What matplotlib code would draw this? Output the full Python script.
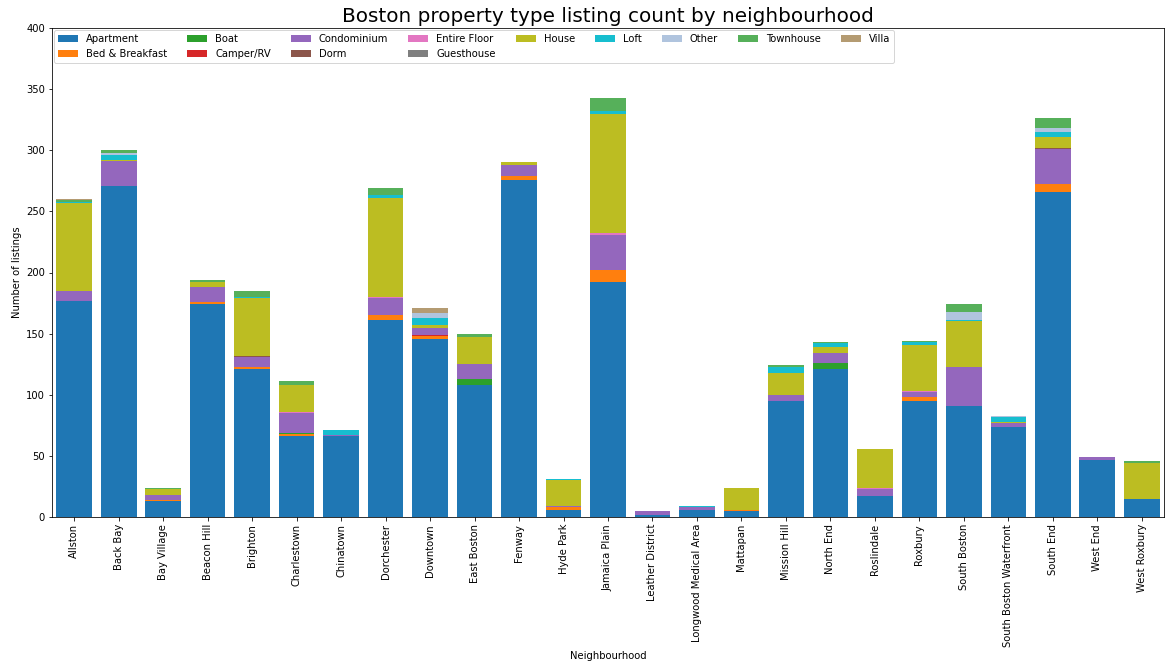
import numpy as np
import matplotlib
matplotlib.use("Agg")
import matplotlib.pyplot as plt

neighbourhoods = ["Allston", "Back Bay", "Bay Village", "Beacon Hill", "Brighton",
                  "Charlestown", "Chinatown", "Dorchester", "Downtown", "East Boston",
                  "Fenway", "Hyde Park", "Jamaica Plain", "Leather District",
                  "Longwood Medical Area", "Mattapan", "Mission Hill", "North End",
                  "Roslindale", "Roxbury", "South Boston", "South Boston Waterfront",
                  "South End", "West End", "West Roxbury"]

apartment = [177, 271, 13, 174, 121, 66, 66, 161, 146, 108, 276, 6, 192, 2, 6, 5, 95, 121, 17, 95, 91, 74, 266, 47, 15]
bed_breakfast = [0, 0, 1, 2, 2, 2, 0, 4, 2, 0, 3, 2, 10, 0, 0, 1, 0, 0, 0, 3, 0, 0, 6, 0, 0]
boat = [0, 0, 0, 0, 0, 1, 0, 0, 0, 5, 0, 0, 0, 0, 0, 0, 0, 5, 0, 0, 0, 0, 0, 0, 0]
camper = [0, 0, 0, 0, 0, 0, 0, 0, 1, 0, 0, 0, 0, 0, 0, 0, 0, 0, 0, 0, 0, 0, 0, 0, 0]
condominium = [8, 20, 4, 12, 8, 16, 1, 14, 6, 12, 9, 1, 29, 3, 2, 0, 5, 8, 6, 4, 32, 3, 29, 2, 0]
dorm = [0, 0, 0, 0, 1, 0, 0, 0, 0, 0, 0, 0, 0, 0, 0, 0, 0, 0, 0, 0, 0, 0, 1, 0, 0]
entire_floor = [0, 0, 0, 0, 0, 1, 0, 1, 0, 0, 0, 0, 1, 0, 0, 0, 0, 0, 1, 1, 0, 0, 0, 0, 0]
guesthouse = [0] * 25
house = [72, 1, 5, 4, 47, 22, 0, 81, 2, 22, 2, 21, 98, 0, 0, 18, 18, 5, 32, 38, 37, 1, 9, 0, 29]
loft = [1, 4, 0, 0, 1, 0, 4, 2, 6, 0, 0, 1, 2, 0, 1, 0, 5, 3, 0, 2, 1, 4, 4, 0, 0]
other = [0, 2, 0, 0, 0, 0, 0, 0, 4, 0, 0, 0, 0, 0, 0, 0, 0, 0, 0, 0, 7, 1, 3, 0, 0]
townhouse = [1, 2, 1, 2, 5, 3, 0, 6, 0, 3, 0, 0, 11, 0, 0, 0, 1, 1, 0, 1, 6, 0, 8, 0, 2]
villa = [1, 0, 0, 0, 0, 0, 0, 0, 4, 0, 0, 0, 0, 0, 0, 0, 0, 0, 0, 0, 0, 0, 0, 0, 0]

types = ["Apartment", "Bed & Breakfast", "Boat", "Camper/RV", "Condominium", "Dorm",
         "Entire Floor", "Guesthouse", "House", "Loft", "Other", "Townhouse", "Villa"]
series = [apartment, bed_breakfast, boat, camper, condominium, dorm, entire_floor,
          guesthouse, house, loft, other, townhouse, villa]
colors = ["#1f77b4", "#ff7f0e", "#2ca02c", "#d62728", "#9467bd", "#8c564b", "#e377c2",
          "#7f7f7f", "#bcbd22", "#17becf", "#b0c4de", "#56b05a", "#b49b72"]

fig = plt.figure(figsize=(1173 / 72, 669 / 72), dpi=72)
ax = fig.add_axes([52 / 1173, 1 - 517 / 669, 1112 / 1173, 489 / 669])

# stacked bars, one layer per property type
x = np.arange(len(neighbourhoods))
bottom = np.zeros(len(neighbourhoods))
for name, vals, c in zip(types, series, colors):
    ax.bar(x, vals, 0.8, bottom=bottom, color=c, label=name)
    bottom += np.array(vals)

ax.set_xlim(-0.5, len(neighbourhoods) - 0.5)
ax.set_ylim(0, 400)
ax.set_xticks(x)
ax.set_xticklabels(neighbourhoods, rotation=90)
ax.set_xlabel("Neighbourhood")
ax.set_ylabel("Number of listings")
ax.set_title("Boston property type listing count by neighbourhood", fontsize=20)
ax.legend(loc="upper left", ncol=9, fontsize=10, borderaxespad=0.2)

fig.savefig("out.png", dpi=72)
